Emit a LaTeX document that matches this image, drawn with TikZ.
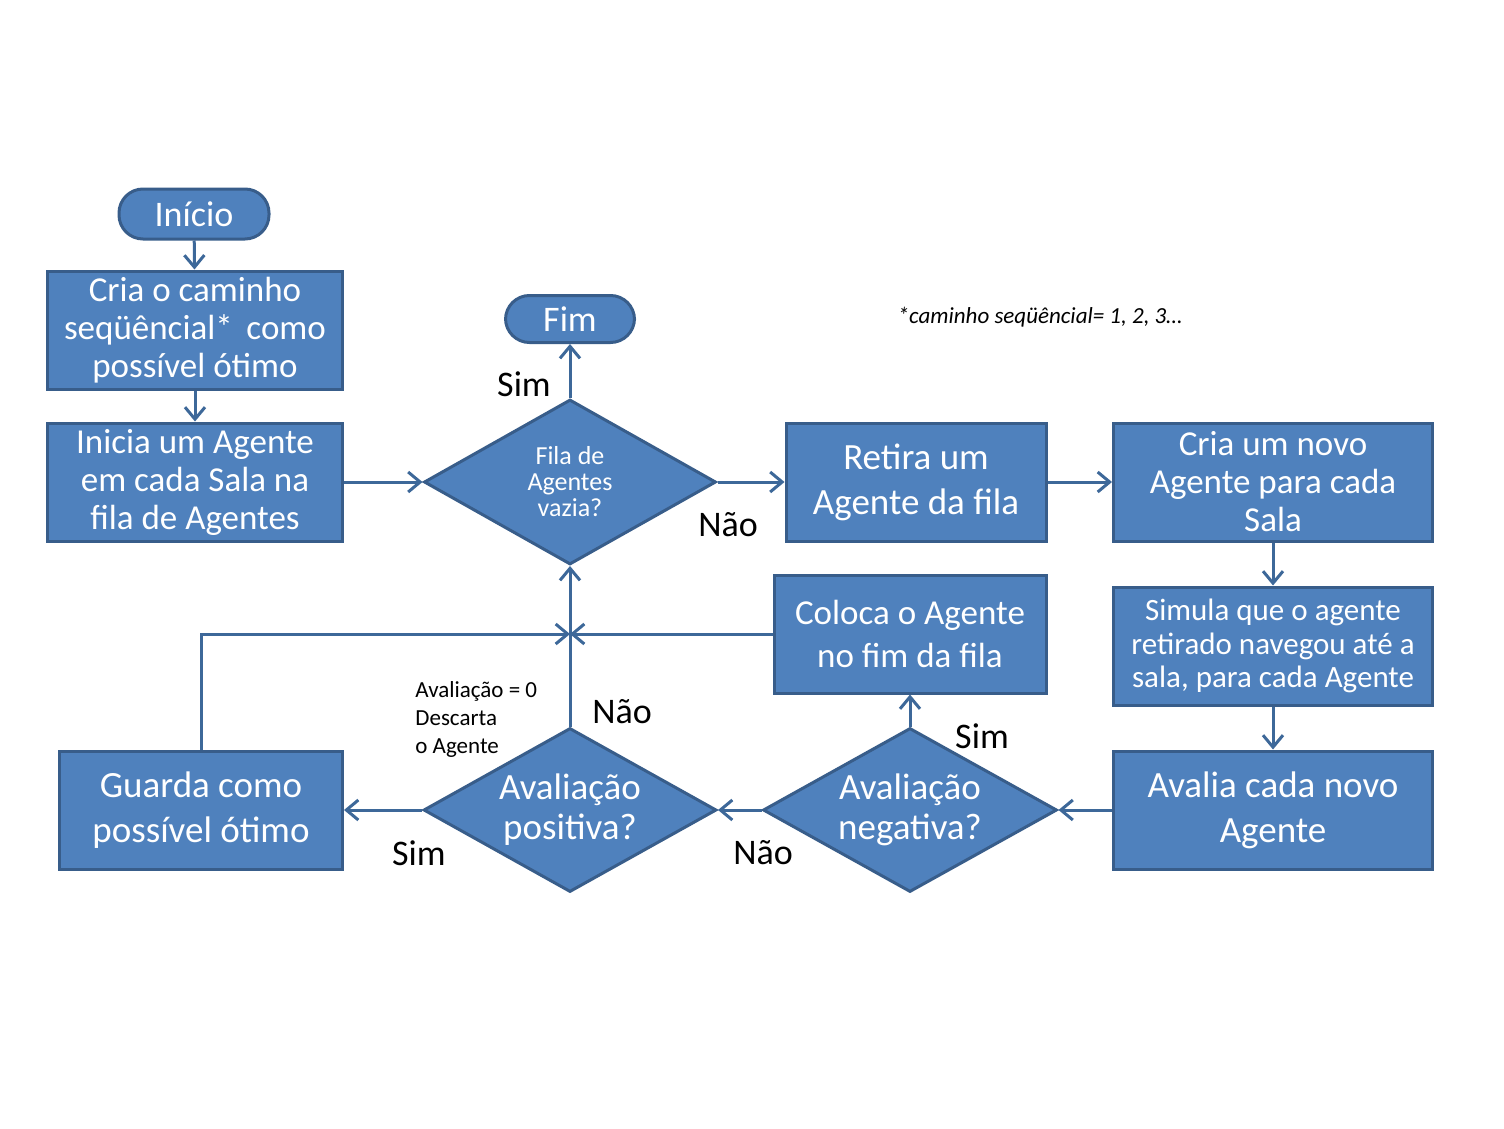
\documentclass[tikz,border=0pt]{standalone}
\usepackage{fontspec}
\setmainfont{Carlito}
\usetikzlibrary{shapes.geometric,arrows.meta}
\definecolor{boxfill}{HTML}{4F81BD}
\definecolor{boxline}{HTML}{385D8A}
\definecolor{flowline}{HTML}{3D6899}
\newcommand{\fs}[2]{\fontsize{#1}{#2}\selectfont}
\begin{document}
\begin{tikzpicture}[x=0.5pt,y=-0.5pt,
    box/.style={rectangle,draw=boxline,fill=boxfill,line width=1.5pt,text=white,align=center,minimum height=59pt,inner sep=2pt},
    term/.style={box,rounded corners=12pt},
    choice/.style={diamond,draw=boxline,fill=boxfill,line width=1.5pt,text=white,align=center,inner sep=0pt,aspect=1.77},
    arr/.style={draw=flowline,line width=1.5pt,-{Straight Barb[length=6pt,width=10pt]}},
    lbl/.style={text=black,font=\fs{18}{21}}]

    \useasboundingbox (0,0) rectangle (1504,1129);

    {
    % left column
    \node[term,minimum width=75pt,minimum height=25pt,font=\fs{18}{21}] (start) at (194,214) {Início};
    \node[box,minimum width=147.5pt,font=\fs{17.5}{19}] (cria) at (195,330) {Cria o caminho\\seqüêncial* \,como\\possível ótimo};
    \node[box,minimum width=147.5pt,font=\fs{17.5}{19}] (inicia) at (195,482) {Inicia um Agente\\em cada Sala na\\fila de Agentes};

    % top row
    \node[term,minimum width=64.5pt,minimum height=23.5pt,font=\fs{18}{21}] (fim) at (570,319) {Fim};
    \node[choice,minimum width=146pt,minimum height=82.5pt,font=\fs{13}{13}] (fila) at (570,482) {Fila de\\Agentes\\vazia?};
    \node[box,minimum width=130pt,font=\fs{18.5}{22.5}] (retira) at (916,482) {\raisebox{-2pt}{Retira um}\\\raisebox{-2pt}{Agente da fila}};
    \node[box,minimum width=159.5pt,font=\fs{17.5}{19}] (novo) at (1273,482) {Cria um novo\\Agente para cada\\Sala};

    % right column
    \node[box,minimum width=159.5pt,font=\fs{15.5}{16.75}] (simula) at (1273,646) {Simula que o agente\\retirado navegou até a\\sala, para cada Agente};
    \node[box,minimum width=159.5pt,font=\fs{18.5}{22.5}] (avalia) at (1273,810) {\raisebox{-2pt}{Avalia cada novo}\\\raisebox{-2pt}{Agente}};

    % bottom row
    \node[choice,minimum width=147pt,minimum height=82pt,font=\fs{18.5}{20}] (neg) at (910,810) {Avaliação\\negativa?};
    \node[choice,minimum width=146.5pt,minimum height=82pt,font=\fs{18.5}{20}] (pos) at (570,810) {Avaliação\\positiva?};
    \node[box,minimum width=141.5pt,font=\fs{18.5}{22.5}] (guarda) at (201,810) {\raisebox{-2pt}{Guarda como}\\\raisebox{-2pt}{possível ótimo}};
    \node[box,minimum width=136pt,font=\fs{17.5}{21.5}] (coloca) at (910,634) {Coloca o Agente\\no fim da fila};
    \coordinate (meet) at (pos.north |- coloca.west);

    % texts
    \node[text=black,align=left,anchor=north west,inner sep=0pt,font=\fs{11.5}{14}] (nota) at (415,681) {Avaliação = 0\\Descarta\\o Agente};
    \node[text=black,font=\fs{11.5}{14}\itshape] (rodape) at (1040,317) {*caminho seqüêncial= 1, 2, 3…};

    \node[lbl] (simfim) at (524,384) {Sim};
    \node[lbl] (naofila) at (728,525) {Não};
    \node[lbl] (naopos) at (622,712) {Não};
    \node[lbl] (simneg) at (982,736) {Sim};
    \node[lbl] (naoneg) at (763,853) {Não};
    \node[lbl] (simpos) at (419,853) {Sim};

    % connectors
    \draw[arr] (start) -- (cria);
    \draw[arr] (cria) -- (inicia);
    \draw[arr] (inicia) -- (fila);
    \draw[arr] (fila) -- (fim);
    \draw[arr] (fila) -- (retira);
    \draw[arr] (retira) -- (novo);
    \draw[arr] (novo) -- (simula);
    \draw[arr] (simula) -- (avalia);
    \draw[arr] (avalia) -- (neg);
    \draw[arr] (neg) -- (coloca);
    \draw[arr] (neg) -- (pos);
    \draw[arr] (pos) -- (guarda);
    \draw[arr] (pos) -- (fila);
    \draw[arr] (coloca) -- (meet);
    \draw[arr] (guarda.north) |- (meet);
    }
\end{tikzpicture}
\end{document}
